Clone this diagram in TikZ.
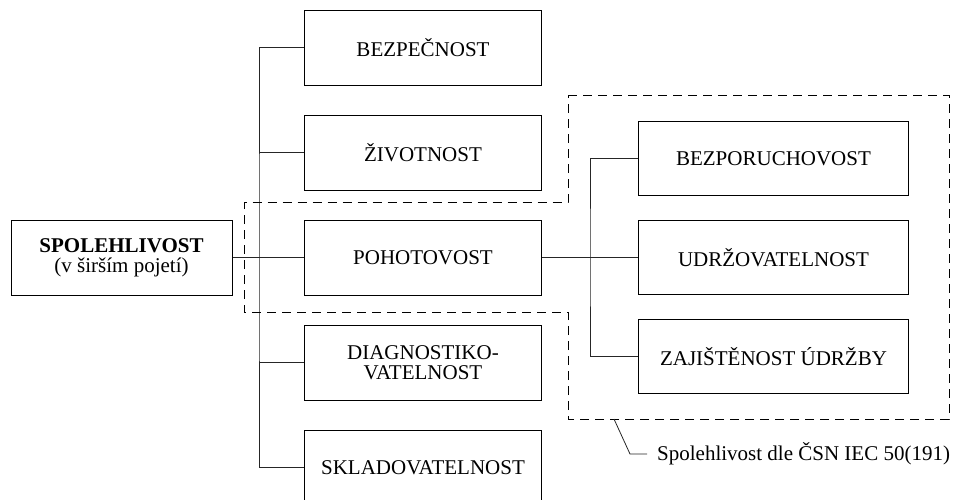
\documentclass[tikz,border=0pt]{standalone}
\usepackage{fontspec}
\setmainfont{Liberation Serif}
\usetikzlibrary{positioning}
\tikzset{relbox/.style={rectangle,draw=black,fill=white,line width=1pt,
inner sep=2pt,minimum height=75pt, minimum width=237pt,align=center,
font=\fontsize{21}{20}\selectfont}}
\tikzset{relboxwide/.style={relbox,minimum height=74pt, minimum width=270pt}}
\tikzset{relmain/.style={relbox,minimum width=221pt}}
\tikzset{relline/.style={line width=0.8pt,draw=black!85}}
\tikzset{relframe/.style={line width=0.9pt,dash pattern=on 9pt off 6pt}}

\begin{document}
\begin{tikzpicture}[x=1pt,y=1pt]
        \useasboundingbox (0,0) rectangle (959,-499);

        \node[relmain] (boxSpol) at (121.5,-257.5) {\textbf{SPOLEHLIVOST}\\(v širším pojetí)};
        \node[relbox] (boxPoh) [right=71.5pt of boxSpol] {POHOTOVOST};
        \node[relbox] (boxZiv) [above=29pt of boxPoh] {ŽIVOTNOST};
        \node[relbox] (boxBez) [above=29pt of boxZiv] {BEZPEČNOST};
        \node[relbox] (boxDiag) [below=29pt of boxPoh] {DIAGNOSTIKO-\\VATELNOST};
        \node[relbox] (boxSkl) [below=29pt of boxDiag] {SKLADOVATELNOST};

        \node[relboxwide] (boxUdr) [right=96pt of boxPoh] {UDRŽOVATELNOST};
        \node[relboxwide] (boxBezp) [above=24pt of boxUdr] {BEZPORUCHOVOST};
        \node[relboxwide] (boxZaj) [below=24pt of boxUdr] {ZAJIŠTĚNOST ÚDRŽBY};

        % left tree
        \coordinate (trunkL) at ([xshift=-45pt]boxPoh.west);
        \draw[relline] (boxSpol) -- (boxPoh);
        \draw[relline] (boxBez.west) -| (trunkL) |- (boxSkl.west);
        \draw[relline] (boxZiv.west) -- (boxZiv.west -| trunkL);
        \draw[relline] (boxDiag.west) -- (boxDiag.west -| trunkL);

        % right tree
        \coordinate (trunkR) at ([xshift=-48pt]boxUdr.west);
        \draw[relline] (boxPoh) -- (boxUdr);
        \draw[relline] (boxBezp.west) -| (trunkR) |- (boxZaj.west);

        % dashed frame
        \coordinate (frameNE) at ([xshift=40pt,yshift=26pt]boxBezp.north east);
        \coordinate (frameSW) at ([xshift=-70pt,yshift=-25pt]boxZaj.south west);
        \coordinate (frameLT) at ([xshift=-60pt,yshift=17pt]boxPoh.north west);
        \coordinate (frameLB) at ([xshift=-60pt,yshift=-17pt]boxPoh.south west);
        \draw[relframe] (frameSW |- frameNE) -- (frameNE) -- (frameNE |- frameSW)
            -- (frameSW) -- (frameSW |- frameLB) -- (frameLB) -- (frameLT)
            -- (frameSW |- frameLT) -- cycle;

        % note
        \node[anchor=west,inner xsep=10pt,font=\fontsize{21}{20}\selectfont] (noteCsn) at (647,-454) {Spolehlivost dle ČSN IEC 50(191)};
        \coordinate (noteTip) at ([xshift=46pt]frameSW);
        \draw[relline] (noteTip) -- ([xshift=-17pt]noteCsn.west) -- (noteCsn.west);

\end{tikzpicture}
\end{document}
